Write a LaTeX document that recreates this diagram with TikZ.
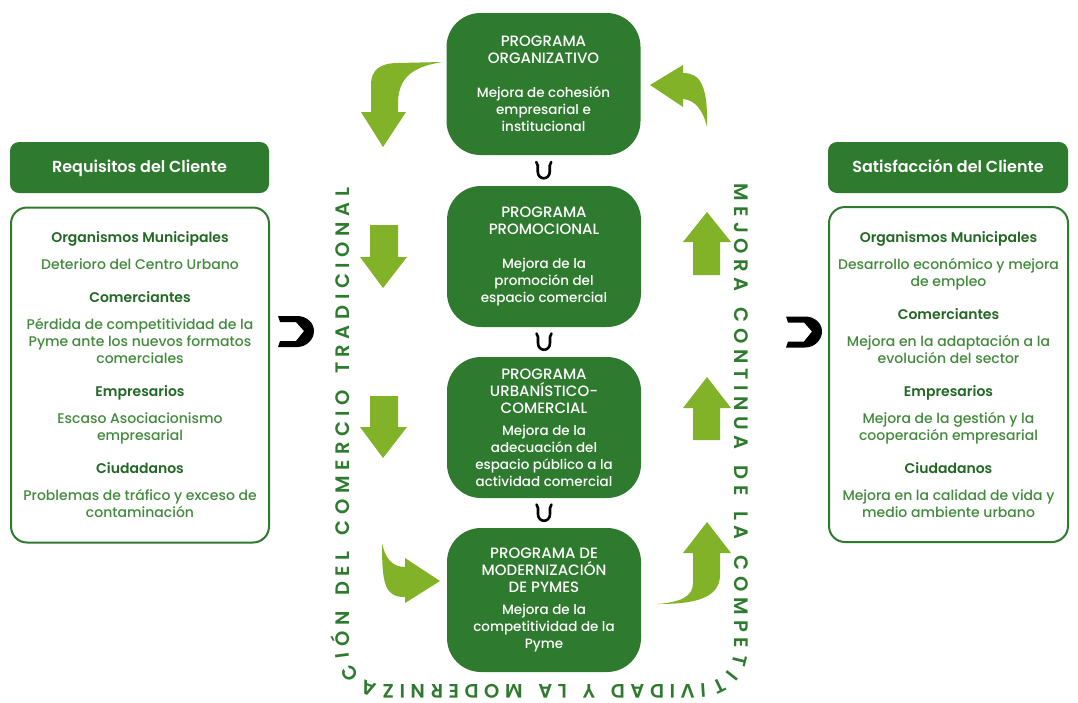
\documentclass[tikz,border=0pt]{standalone}
\usepackage{fontspec}
\setmainfont{Poppins}[UprightFont=* Medium, BoldFont=* SemiBold]
\usetikzlibrary{calc,decorations.text}

\definecolor{verdeosc}{RGB}{46,122,46}
\definecolor{verdeclaro}{RGB}{130,178,40}
\definecolor{verdetexto}{RGB}{66,138,60}
\definecolor{verdetitulo}{RGB}{34,104,36}

\newcommand{\tit}[1]{{\bfseries\color{verdetitulo}#1}}
\newcommand{\prg}[1]{{\fontsize{15}{17}\selectfont #1}}

\tikzset{
  programa/.style={fill=verdeosc, text=white, rounded corners=34pt, minimum width=194pt,
    align=center, inner sep=0pt, font=\fontsize{13.5}{17}\selectfont},
  cabecera/.style={fill=verdeosc, text=white, rounded corners=9pt, minimum height=51pt,
    inner sep=0pt, text height=12pt, text depth=3pt, font=\fontsize{16}{18}\selectfont\bfseries},
  cuadro/.style={draw=verdeosc, line width=2pt, rounded corners=16pt, minimum height=335pt,
    align=center, inner sep=0pt, text=verdetexto, font=\fontsize{14}{17}\selectfont},
  flecha/.style={fill=verdeclaro},
  herradura/.pic={
    \draw[line width=2.6pt, line cap=round] (-7.5,-8.5) -- (-6,-5) -- (-6,1)
      .. controls (-6,10) and (6,10) .. (6,1) -- (6,-5) -- (7.5,-8.5);
  },
  gancho/.pic={
    \fill (-18,-15) -- (1,-15) .. controls (11,-15) and (18,-8) .. (18,0)
      .. controls (18,8) and (11,16) .. (1,16) -- (-18,16) -- (-16,10) -- (0,10)
      -- (8,0) -- (0,-9) -- (-16,-9) -- cycle;
  }
}

\begin{document}
\begin{tikzpicture}[x=1pt, y=-1pt]
  \fill[white] (0,0) rectangle (1078,702);
  \useasboundingbox (0,0) rectangle (1078,702);

  % programas
  \node[programa, minimum height=142pt] (org) at (543.5,84)
    {\prg{PROGRAMA}\\\prg{ORGANIZATIVO}\\[17pt]Mejora de cohesión\\empresarial e\\institucional};
  \node[programa, minimum height=141pt] (prom) at (544,256.5)
    {\prg{PROGRAMA}\\\prg{PROMOCIONAL}\\[17pt]Mejora de la\\promoción del\\espacio comercial};
  \node[programa, minimum height=141pt] (urb) at (544,427.5)
    {\prg{PROGRAMA}\\\prg{URBANÍSTICO-}\\\prg{COMERCIAL}\\[5pt]Mejora de la\\adecuación del\\espacio público a la\\actividad comercial};
  \node[programa, minimum height=144pt] (pym) at (544,600)
    {\prg{PROGRAMA DE}\\\prg{MODERNIZACIÓN}\\\prg{DE PYMES}\\[5pt]Mejora de la\\competitividad de la\\Pyme};

  \pic at ($(org.south)!.5!(prom.north)$) {herradura};
  \pic at ($(prom.south)!.5!(urb.north)$) {herradura};
  \pic at ($(urb.south)!.5!(pym.north)$) {herradura};

  % cliente
  \node[cabecera, minimum width=259pt] (reqtit) at (139.5,167.5) {Requisitos del Cliente};
  \node[cabecera, minimum width=240pt] (sattit) at (948,167.5) {Satisfacción del Cliente};

  \node[cuadro, minimum width=258pt] (req) at (140,375)
    {\tit{Organismos Municipales}\\[10pt]Deterioro del Centro Urbano\\[16pt]
     \tit{Comerciantes}\\[10pt]Pérdida de competitividad de la\\Pyme ante los nuevos formatos\\comerciales\\[16pt]
     \tit{Empresarios}\\[10pt]Escaso Asociacionismo\\empresarial\\[16pt]
     \tit{Ciudadanos}\\[10pt]Problemas de tráfico y exceso de\\contaminación};
  \node[cuadro, minimum width=239pt] (sat) at (948.5,374.5)
    {\tit{Organismos Municipales}\\[10pt]Desarrollo económico y mejora\\de empleo\\[16pt]
     \tit{Comerciantes}\\[10pt]Mejora en la adaptación a la\\evolución del sector\\[16pt]
     \tit{Empresarios}\\[10pt]Mejora de la gestión y la\\cooperación empresarial\\[16pt]
     \tit{Ciudadanos}\\[10pt]Mejora en la calidad de vida y\\medio ambiente urbano};

  \pic at ($(req.east)+(26,-44)$) {gancho};
  \pic at ($(sat.west)+(-24,-43)$) {gancho};

  % flechas bajando
  \fill[flecha] (361,112) -- (371,112) -- (371,85) .. controls (371,70) and (380,63) .. (398,63)
    -- (442,62) .. controls (420,66) and (400,72) .. (398,100) -- (398,112) -- (406,112)
    -- (383,147) -- cycle;
  \fill[flecha] (370,225) -- (398,225) -- (398,257) -- (407,257) -- (383,288) -- (360,257)
    -- (370,257) -- cycle;
  \fill[flecha] (370,396) -- (398,396) -- (398,427) -- (407,427) -- (383,458) -- (360,427)
    -- (370,427) -- cycle;
  \fill[flecha] (382,543) .. controls (382,585) and (385,597) .. (405,597) -- (405,603)
    -- (440,581) -- (405,558) -- (405,567) .. controls (392,567) and (385,558) .. (382,543) -- cycle;

  % flechas subiendo
  \fill[flecha] (693,553) -- (693,583) .. controls (693,597) and (680,602) .. (658,604)
    .. controls (690,604) and (720,600) .. (720,575) -- (720,553) -- (731,553) -- (707,522)
    -- (683,553) -- cycle;
  \fill[flecha] (693,440) -- (720,440) -- (720,408) -- (731,408) -- (707,377) -- (683,408)
    -- (693,408) -- cycle;
  \fill[flecha] (693,275) -- (720,275) -- (720,242) -- (731,242) -- (707,212) -- (683,242)
    -- (693,242) -- cycle;
  \fill[flecha] (707,127) .. controls (708,85) and (700,73) .. (683,73) -- (683,65) -- (650,85)
    -- (683,107) -- (683,99) .. controls (695,100) and (703,110) .. (707,127) -- cycle;

  % texto alrededor
  \path[decorate, decoration={text along path, text color=verdeosc, text align={fit to path},
      text={|\fontsize{19.5}{20}\selectfont\bfseries|MEJORA CONTINUA DE LA COMPETITIVIDAD Y LA MODERNIZACIÓN DEL COMERCIO TRADICIONAL}}]
    (734,183) -- (734,650) .. controls (734,670) and (720,684) .. (700,684) -- (384,684)
    .. controls (364,684) and (349,670) .. (349,650) -- (349,188);
\end{tikzpicture}
\end{document}
